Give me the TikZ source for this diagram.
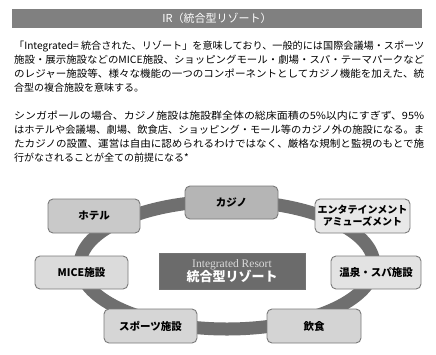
\documentclass[tikz,border=0pt]{standalone}
\usepackage{fontspec}
\usepackage{graphicx}
\setmainfont{Noto Sans CJK JP}
\newfontfamily\serifen{Liberation Serif}
\definecolor{hdrgray}{HTML}{808080}
\definecolor{ringgray}{HTML}{6F6F6F}
\definecolor{boxline}{HTML}{7A7A7A}
\definecolor{centerfill}{HTML}{6B6B6B}
\definecolor{centertext}{HTML}{DADADA}
\newcommand{\fullline}[1]{\resizebox{410pt}{\height}{#1}}
\tikzset{
  txtline/.style={anchor=west, inner sep=0pt, font=\fontsize{10}{12}\selectfont},
  item/.style={draw=boxline, line width=0.9pt, rounded corners=5pt, minimum height=34pt,
    inner sep=1pt, align=center, font=\fontsize{10.5}{12}\bfseries\selectfont},
}
\begin{document}
\begin{tikzpicture}[x=1pt,y=-1pt]
\useasboundingbox (0,0) rectangle (436,354);
\fill[white] (0,0) rectangle (436,354);
% header
\node[fill=hdrgray, minimum width=410pt, minimum height=19pt, inner sep=0pt, text=white,
  font=\fontsize{11}{12}\selectfont] (hdr) at (217,18) {IR（統合型リゾート）};
% paragraph 1
\node[txtline] (p1a) at (14,46) {\fullline{「Integrated= 統合された、リゾート」を意味しており、一般的には国際会議場・スポーツ}};
\node[txtline] (p1b) at (14,60) {\fullline{施設・展示施設などのMICE施設、ショッピングモール・劇場・スパ・テーマパークなど}};
\node[txtline] (p1c) at (14,74) {\fullline{のレジャー施設等、様々な機能の一つのコンポーネントとしてカジノ機能を加えた、統}};
\node[txtline] (p1d) at (14,88) {合型の複合施設を意味する。};
% paragraph 2
\node[txtline] (p2a) at (14,116) {\fullline{シンガポールの場合、カジノ施設は施設群全体の総床面積の5\%以内にすぎず、95\%}};
\node[txtline] (p2b) at (14,130) {\fullline{はホテルや会議場、劇場、飲食店、ショッピング・モール等のカジノ外の施設になる。ま}};
\node[txtline] (p2c) at (14,144) {\fullline{たカジノの設置、運営は自由に認められるわけではなく、厳格な規制と監視のもとで施}};
\node[txtline] (p2d) at (14,158) {行がなされることが全ての前提になる*};
% ring
\draw[ringgray, line width=13pt] (227,265) ellipse [x radius=147, y radius=64];
% boxes
\node[item, fill=black!29, minimum width=93pt, minimum height=33pt] (casino) at (231.5,202.5) {カジノ};
\node[item, fill=black!21, minimum width=92pt] (hotel) at (94,216) {ホテル};
\node[item, fill=black!9, minimum width=95pt, font=\fontsize{10}{12}\bfseries\selectfont] (ent) at (362.5,216) {エンタテインメント\\アミューズメント};
\node[item, fill=black!14, minimum width=93pt, minimum height=33pt] (mice) at (81.5,272.5) {MICE施設};
\node[item, fill=black!11, minimum width=90pt, minimum height=33pt] (onsen) at (376,272.5) {温泉・スパ施設};
\node[item, fill=black!16, minimum width=93pt] (sports) at (150.5,326) {スポーツ施設};
\node[item, fill=black!17, minimum width=94pt] (food) at (314,326) {飲食};
% center
\node[draw=black!55, fill=centerfill, minimum width=146pt, minimum height=36pt, inner sep=1pt, align=center] (ir) at (232,271)
  {{\serifen\fontsize{11.5}{12}\selectfont\color{centertext}Integrated Resort}\\[-1pt]{\fontsize{13}{14}\bfseries\selectfont\color{white}統合型リゾート}};
\end{tikzpicture}
\end{document}
